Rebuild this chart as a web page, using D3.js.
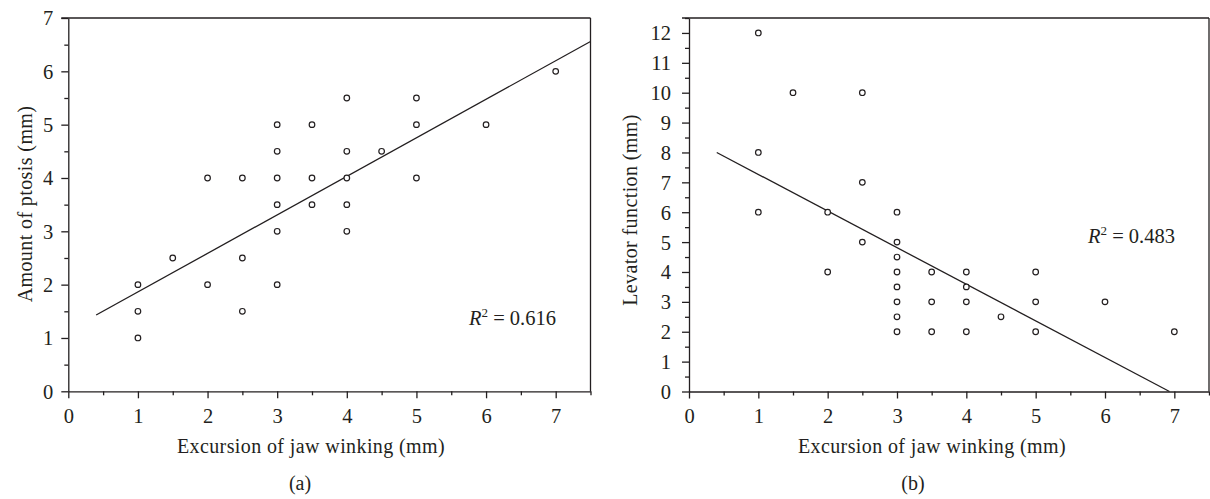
<!DOCTYPE html>
<html>
<head>
<meta charset="utf-8">
<script src="https://cdn.jsdelivr.net/npm/d3@7"></script>
<style>
  body { margin: 0; background: #fff; }
  svg text { font-family: "Liberation Serif", "Times New Roman", serif; fill: #231f20; }
  .axis path, .axis line { stroke: #231f20; stroke-width: 1.3; }
</style>
</head>
<body>
<svg id="chart" width="1210" height="499"></svg>
<script>
// Panel (a): excursion of jaw winking vs amount of ptosis
var ptosisX = [1, 1, 1, 1.5, 2, 2, 2.5, 2.5, 2.5, 3, 3, 3, 3, 3, 3, 3.5, 3.5, 3.5, 4, 4, 4, 4, 4, 4.5, 5, 5, 5, 6, 7];
var ptosisY = [2, 1.5, 1, 2.5, 4, 2, 4, 2.5, 1.5, 5, 4.5, 4, 3.5, 3, 2, 5, 4, 3.5, 5.5, 4.5, 4, 3.5, 3, 4.5, 5.5, 5, 4, 5, 6];
var fitAX = [0.4, 7.5];
var fitAY = [1.43, 6.56];

// Panel (b): excursion of jaw winking vs levator function
var levatorX = [1, 1, 1, 1.5, 2, 2, 2.5, 2.5, 2.5, 3, 3, 3, 3, 3, 3, 3, 3, 3.5, 3.5, 3.5, 4, 4, 4, 4, 4.5, 5, 5, 5, 6, 7];
var levatorY = [12, 8, 6, 10, 6, 4, 10, 7, 5, 6, 5, 4.5, 4, 3.5, 3, 2.5, 2, 4, 3, 2, 4, 3.5, 3, 2, 2.5, 4, 3, 2, 3, 2];
var fitBX = [0.4, 6.93];
var fitBY = [8.0, 0];

// tick labels
var xTicks = [0, 1, 2, 3, 4, 5, 6, 7];
var yTicksA = [0, 1, 2, 3, 4, 5, 6, 7];
var yTicksB = [0, 1, 2, 3, 4, 5, 6, 7, 8, 9, 10, 11, 12];

var svg = d3.select("#chart");

// Draws one scatter panel with its fit line and R^2 note.
function drawPanel(opt) {
  var x = d3.scaleLinear().domain([0, 7.5]).range([opt.left, opt.right]);
  var y = d3.scaleLinear().domain([0, opt.yMax]).range([opt.bottom, opt.top]);
  var g = svg.append("g");

  // minor ticks every 0.5
  var xMinor = d3.range(0.5, 7.51, 1);
  var yMinor = d3.range(0.5, opt.yMax + 0.01, 1);

  g.append("g").attr("class", "axis")
    .attr("transform", "translate(0," + opt.bottom + ")")
    .call(d3.axisBottom(x).tickValues(xMinor).tickSize(4).tickFormat(""))
    .select(".domain").remove();
  g.append("g").attr("class", "axis")
    .attr("transform", "translate(" + opt.left + ",0)")
    .call(d3.axisLeft(y).tickValues(yMinor).tickSize(4).tickFormat(""))
    .select(".domain").remove();

  // major axes
  var xa = g.append("g").attr("class", "axis")
    .attr("transform", "translate(0," + opt.bottom + ")")
    .call(d3.axisBottom(x).tickValues(xTicks).tickSize(7).tickSizeOuter(0).tickPadding(10).tickFormat(d3.format("d")));
  var ya = g.append("g").attr("class", "axis")
    .attr("transform", "translate(" + opt.left + ",0)")
    .call(d3.axisLeft(y).tickValues(opt.yTicks).tickSize(7).tickSizeOuter(0).tickPadding(opt.yPad).tickFormat(d3.format("d")));
  xa.selectAll("text").style("font-size", "20.5px").attr("fill", "#231f20");
  ya.selectAll("text").style("font-size", "20.5px").attr("fill", "#231f20").attr("dy", "0.34em");

  // frame: top and right
  g.append("line")
    .attr("x1", opt.left - 7).attr("x2", x(7.5))
    .attr("y1", y(opt.yMax)).attr("y2", y(opt.yMax))
    .attr("stroke", "#231f20").attr("stroke-width", 1.3);
  g.append("line")
    .attr("x1", x(7.5)).attr("x2", x(7.5))
    .attr("y1", y(opt.yMax)).attr("y2", y(0))
    .attr("stroke", "#231f20").attr("stroke-width", 1.3);

  // fit line
  var line = d3.line().x(function(d) { return x(d[0]); }).y(function(d) { return y(d[1]); });
  g.append("path")
    .datum(d3.zip(opt.fitX, opt.fitY))
    .attr("d", line)
    .attr("fill", "none")
    .attr("stroke", "#231f20")
    .attr("stroke-width", 1.3);

  // points
  g.selectAll("circle")
    .data(d3.zip(opt.xs, opt.ys))
    .enter()
    .append("circle")
    .attr("cx", function(d) { return x(d[0]); })
    .attr("cy", function(d) { return y(d[1]); })
    .attr("r", 2.8)
    .attr("fill", "#fff")
    .attr("stroke", "#231f20")
    .attr("stroke-width", 1.2);

  // axis titles
  g.append("text")
    .attr("x", opt.xTitleX).attr("y", 453)
    .attr("text-anchor", "middle")
    .style("font-size", "20px")
    .style("letter-spacing", "0.4px")
    .text("Excursion of jaw winking (mm)");
  g.append("text")
    .attr("transform", "translate(" + opt.yTitleX + "," + opt.yTitleY + ") rotate(-90)")
    .attr("text-anchor", "middle")
    .style("font-size", "20px")
    .style("letter-spacing", "0.4px")
    .text(opt.yTitle);

  // panel letter
  g.append("text")
    .attr("x", opt.letterX).attr("y", 490)
    .attr("text-anchor", "middle")
    .style("font-size", "20px")
    .text(opt.letter);

  // R^2 note
  var r = g.append("text")
    .attr("x", opt.rX).attr("y", opt.rY)
    .style("font-size", "20.5px");
  r.append("tspan").style("font-style", "italic").text("R");
  r.append("tspan").attr("dy", -8).style("font-size", "13px").text("2");
  r.append("tspan").attr("dy", 8).text(" = " + opt.r2);
}

drawPanel({
  left: 68.3, right: 590.5, top: 18, bottom: 391.3, yMax: 7,
  yTicks: yTicksA, yPad: 8,
  xs: ptosisX, ys: ptosisY, fitX: fitAX, fitY: fitAY,
  xTitleX: 311, yTitleX: 32, yTitleY: 204, yTitle: "Amount of ptosis (mm)",
  letterX: 300, letter: "(a)",
  rX: 469, rY: 325, r2: "0.616"
});

drawPanel({
  left: 689, right: 1209, top: 18, bottom: 391.5, yMax: 12.5,
  yTicks: yTicksB, yPad: 11,
  xs: levatorX, ys: levatorY, fitX: fitBX, fitY: fitBY,
  xTitleX: 932, yTitleX: 637, yTitleY: 210, yTitle: "Levator function (mm)",
  letterX: 913, letter: "(b)",
  rX: 1088, rY: 243, r2: "0.483"
});
</script>
</body>
</html>
